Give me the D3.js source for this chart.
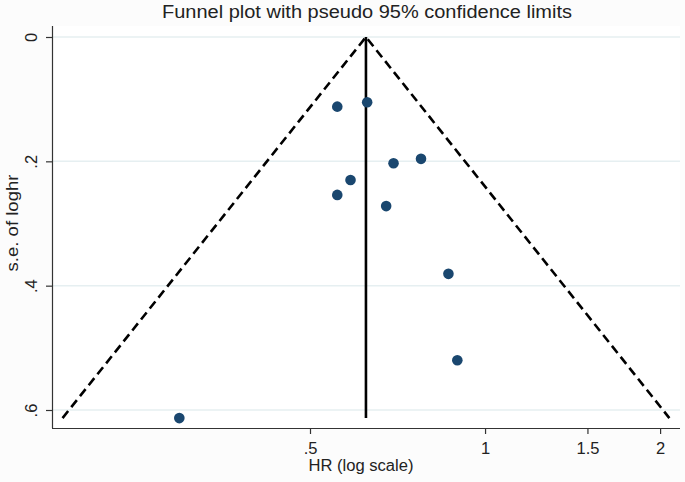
<!DOCTYPE html>
<html><head><meta charset="utf-8">
<script src="https://cdn.jsdelivr.net/npm/d3@7"></script>
<style>body{margin:0;background:#fff}svg{display:block}</style>
</head><body>
<script>
// Study hazard ratios and standard errors of log HR
const hr = [0.557, 0.627, 0.696, 0.776, 0.587, 0.557, 0.676, 0.865, 0.896, 0.298];
const se = [0.112, 0.105, 0.203, 0.196, 0.230, 0.254, 0.272, 0.381, 0.520, 0.613];
const pooledHR = 0.624;
const xTicks = [0.5, 1, 1.5, 2];
const xTickLabels = [".5", "1", "1.5", "2"];
const yTicks = [0, 0.2, 0.4, 0.6];
const yTickLabels = ["0", ".2", ".4", ".6"];
const title = "Funnel plot with pseudo 95% confidence limits";
const xTitle = "HR (log scale)";
const yTitle = "s.e. of loghr";

(function () {
const W = 685, H = 482;
const svg = d3.select("body").append("svg").attr("width", W).attr("height", H);
svg.append("rect").attr("width", W).attr("height", H).attr("fill", "#fcfcfc");

const pl = 52, pr = 680, pt = 26, pb = 428;
const x = d3.scaleLog().domain([0.18, 2.164]).range([pl, pr]);
const y = d3.scaleLinear().domain([0, 0.6]).range([37, 410]);

svg.append("rect").attr("x", pl).attr("y", pt).attr("width", pr - pl).attr("height", pb - pt).attr("fill", "#fff");

// gridlines
svg.append("g").selectAll("line").data(yTicks).join("line")
  .attr("x1", pl).attr("x2", pr)
  .attr("y1", d => y(d)).attr("y2", d => y(d))
  .attr("stroke", "#e6eff1").attr("stroke-width", 1.5);

// funnel
const seMax = d3.max(se);
const lnP = Math.log(pooledHR);
const funnel = [
  [Math.exp(lnP - 1.96 * seMax), seMax],
  [pooledHR, 0],
  [Math.exp(lnP + 1.96 * seMax), seMax]
];
svg.append("path")
  .attr("d", d3.line().x(d => x(d[0])).y(d => y(d[1]))(funnel))
  .attr("fill", "none").attr("stroke", "#000").attr("stroke-width", 2.6)
  .attr("stroke-dasharray", "9,5");

// pooled line
svg.append("line")
  .attr("x1", x(pooledHR)).attr("x2", x(pooledHR))
  .attr("y1", y(0)).attr("y2", y(seMax))
  .attr("stroke", "#000").attr("stroke-width", 2.6);

// points
svg.append("g").selectAll("circle").data(hr).join("circle")
  .attr("cx", d => x(d)).attr("cy", (d, i) => y(se[i]))
  .attr("r", 5.3).attr("fill", "#1a476f");

// axes
const font = "Liberation Sans, Arial, sans-serif";
const xAxis = svg.append("g").attr("transform", `translate(0,${pb})`)
  .call(d3.axisBottom(x).tickValues(xTicks).tickFormat((d, i) => xTickLabels[i]).tickSize(6).tickSizeOuter(0));
xAxis.select(".domain").attr("d", `M${pl},0.5H${pr}`);
const yAxis = svg.append("g").attr("transform", `translate(${pl},0)`)
  .call(d3.axisLeft(y).tickValues(yTicks).tickFormat((d, i) => yTickLabels[i]).tickSize(6).tickSizeOuter(0));
yAxis.select(".domain").attr("d", `M0.5,${pt}V${pb}`);
[xAxis, yAxis].forEach(a => {
  a.selectAll(".domain").attr("stroke", "#333").attr("stroke-width", 1.2);
  a.selectAll(".tick line").attr("stroke", "#333").attr("stroke-width", 1.2);
  a.selectAll("text").attr("font-family", font).attr("font-size", 16.5).attr("fill", "#222");
});
xAxis.selectAll("text").attr("dy", "1.05em");
yAxis.selectAll(".tick text")
  .attr("x", null).attr("dy", null)
  .attr("transform", "translate(-15,0) rotate(-90)")
  .attr("text-anchor", "middle");

// titles
svg.append("text").attr("x", 367).attr("y", 18).attr("text-anchor", "middle")
  .attr("font-family", font).attr("font-size", 18).attr("fill", "#222")
  .attr("textLength", 410).attr("lengthAdjust", "spacingAndGlyphs").text(title);
svg.append("text").attr("x", 361).attr("y", 471).attr("text-anchor", "middle")
  .attr("font-family", font).attr("font-size", 16).attr("fill", "#222")
  .attr("textLength", 105).attr("lengthAdjust", "spacingAndGlyphs").text(xTitle);
svg.append("text").attr("transform", "translate(18,223) rotate(-90)").attr("text-anchor", "middle")
  .attr("font-family", font).attr("font-size", 16.5).attr("fill", "#222")
  .attr("textLength", 97).attr("lengthAdjust", "spacingAndGlyphs").text(yTitle);
})();
</script>
</body></html>
